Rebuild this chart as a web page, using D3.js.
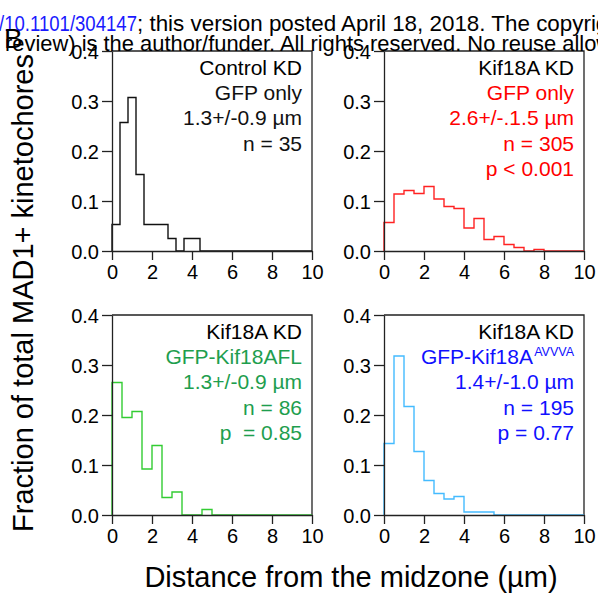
<!DOCTYPE html>
<html>
<head>
<meta charset="utf-8">
<script src="https://cdn.jsdelivr.net/npm/d3@7"></script>
<style>
  body { margin: 0; background: #fff; }
  svg { display: block; font-family: "Liberation Sans", Arial, sans-serif; }
  text { white-space: pre; }
</style>
</head>
<body>
<script>
const width = 598
const height = 602

// histogram fractions, one value per bin
const controlBinWidth = 0.4
const controlValues = [0.053, 0.257, 0.307, 0.153, 0.053, 0.053, 0.053, 0.025, 0, 0.025, 0.025]
const gfpBinWidth = 0.5
const gfpValues = [0.057, 0.114, 0.121, 0.115, 0.129, 0.104, 0.089, 0.085, 0.046, 0.065, 0.023, 0.029, 0.013, 0.007, 0, 0.003]
const flBinWidth = 0.5
const flValues = [0.265, 0.195, 0.207, 0.092, 0.139, 0.035, 0.046, 0, 0, 0.011]
const avvvaBinWidth = 0.5
const avvvaValues = [0.143, 0.318, 0.217, 0.127, 0.069, 0.043, 0.032, 0.037, 0.006, 0.006, 0.006]

const xTicks = [0, 2, 4, 6, 8, 10]
const yTicks = [0, 0.1, 0.2, 0.3, 0.4]

const panelTexts = [
    ['Control KD', 'GFP only', '1.3+/-0.9 µm', 'n = 35'],
    ['Kif18A KD', 'GFP only', '2.6+/-.1.5 µm', 'n = 305', 'p < 0.001'],
    ['Kif18A KD', 'GFP-Kif18AFL', '1.3+/-0.9 µm', 'n = 86', 'p  = 0.85'],
    ['Kif18A KD', 'GFP-Kif18A', '1.4+/-1.0 µm', 'n = 195', 'p = 0.77']
]

const colors = {
    axis: '#222',
    control: '#111',
    gfp: '#ff2222',
    gfpText: '#ff0000',
    fl: '#33cc33',
    flText: '#1e9e4e',
    avvva: '#44bbff',
    avvvaText: '#1010ff'
}

const panels = [
    {left: 112, top: 51, values: controlValues, bin: controlBinWidth, line: colors.control, text: colors.control, lines: panelTexts[0]},
    {left: 384, top: 51, values: gfpValues, bin: gfpBinWidth, line: colors.gfp, text: colors.gfpText, lines: panelTexts[1]},
    {left: 112, top: 315, values: flValues, bin: flBinWidth, line: colors.fl, text: colors.flText, lines: panelTexts[2]},
    {left: 384, top: 315, values: avvvaValues, bin: avvvaBinWidth, line: colors.avvva, text: colors.avvvaText, lines: panelTexts[3], sup: 'AVVVA'}
]
const plotW = 200
const plotH = 200

const svg = d3.select('body')
    .append('svg')
    .attr('width', width)
    .attr('height', height)

panels.forEach(p => {
    const x = d3.scaleLinear().domain([0, 10]).range([0, plotW])
    const y = d3.scaleLinear().domain([0, 0.4]).range([plotH, 0])

    const g = svg.append('g').attr('transform', `translate(${p.left},${p.top})`)

    // steps: pad bins with zeros up to 10 µm
    const nBins = Math.round(10 / p.bin)
    const pts = [[0, 0]]
    for (let i = 0; i < nBins; i++) {
        pts.push([i * p.bin, p.values[i] || 0])
    }
    pts.push([10, 0])

    const line = d3.line()
        .x(d => x(d[0]))
        .y(d => y(d[1]))
        .curve(d3.curveStepAfter)

    // frame top/right
    g.append('path')
        .attr('d', `M0,0H${plotW}V${plotH}`)
        .attr('fill', 'none')
        .attr('stroke', colors.axis)
        .attr('stroke-width', 1.3)

    g.append('path')
        .datum(pts)
        .attr('d', line)
        .attr('fill', 'none')
        .attr('stroke', p.line)
        .attr('stroke-width', 1.4)

    const xAxis = g.append('g')
        .attr('transform', `translate(0,${plotH})`)
        .call(d3.axisBottom(x).tickValues(xTicks).tickSize(9).tickPadding(5).tickSizeOuter(0))
    const yAxis = g.append('g')
        .call(d3.axisLeft(y).tickValues(yTicks).tickFormat(d3.format('.1f')).tickSize(10).tickPadding(3).tickSizeOuter(0))

    ;[xAxis, yAxis].forEach(a => {
        a.select('.domain').attr('stroke', colors.axis).attr('stroke-width', 1.3)
        a.selectAll('line').attr('stroke', colors.axis).attr('stroke-width', 1.3)
        a.selectAll('text').attr('font-size', 20).attr('font-family', '"Liberation Sans", Arial, sans-serif').attr('fill', '#000')
    })
    xAxis.selectAll('text').attr('dy', '0.72em')
    yAxis.selectAll('text').attr('dy', '0.36em')

    // annotation text, right aligned
    p.lines.forEach((t, i) => {
        const hasSup = p.sup && i === 1
        g.append('text')
            .attr('x', hasSup ? plotW - 10 - 41 : plotW - 10)
            .attr('y', 24 + i * 25.2)
            .attr('text-anchor', 'end')
            .attr('font-size', 21)
            .attr('fill', i === 0 ? '#000' : p.text)
            .text(t)
        if (hasSup) {
            g.append('text')
                .attr('x', plotW - 10)
                .attr('y', 24 + i * 25.2 - 8)
                .attr('text-anchor', 'end')
                .attr('font-size', 12.5)
                .attr('fill', p.text)
                .text(p.sup)
        }
    })
})

// axis titles
svg.append('text')
    .attr('transform', 'translate(33,293) rotate(-90)')
    .attr('text-anchor', 'middle')
    .attr('font-size', 29)
    .attr('fill', '#000')
    .text('Fraction of total MAD1+ kinetochores')

svg.append('text')
    .attr('x', 351)
    .attr('y', 587)
    .attr('text-anchor', 'middle')
    .attr('font-size', 29)
    .attr('fill', '#000')
    .text('Distance from the midzone (µm)')

// preprint header bleeding in from the page above
svg.append('text')
    .attr('x', -1)
    .attr('y', 31)
    .attr('font-size', 22)
    .attr('textLength', 138)
    .attr('lengthAdjust', 'spacingAndGlyphs')
    .attr('fill', '#1a1aff')
    .text('/10.1101/304147')
svg.append('text')
    .attr('x', 137)
    .attr('y', 31)
    .attr('font-size', 22.4)
    .attr('fill', '#000')
    .text('; this version posted April 18, 2018. The copyright holder for this preprint')
svg.append('text')
    .attr('x', 5)
    .attr('y', 51)
    .attr('font-size', 21.9)
    .attr('fill', '#000')
    .text('review) is the author/funder. All rights reserved. No reuse allowed without permission.')

svg.append('text')
    .attr('x', 4)
    .attr('y', 48)
    .attr('font-size', 28)
    .attr('fill', '#000')
    .text('B')
</script>
</body>
</html>
